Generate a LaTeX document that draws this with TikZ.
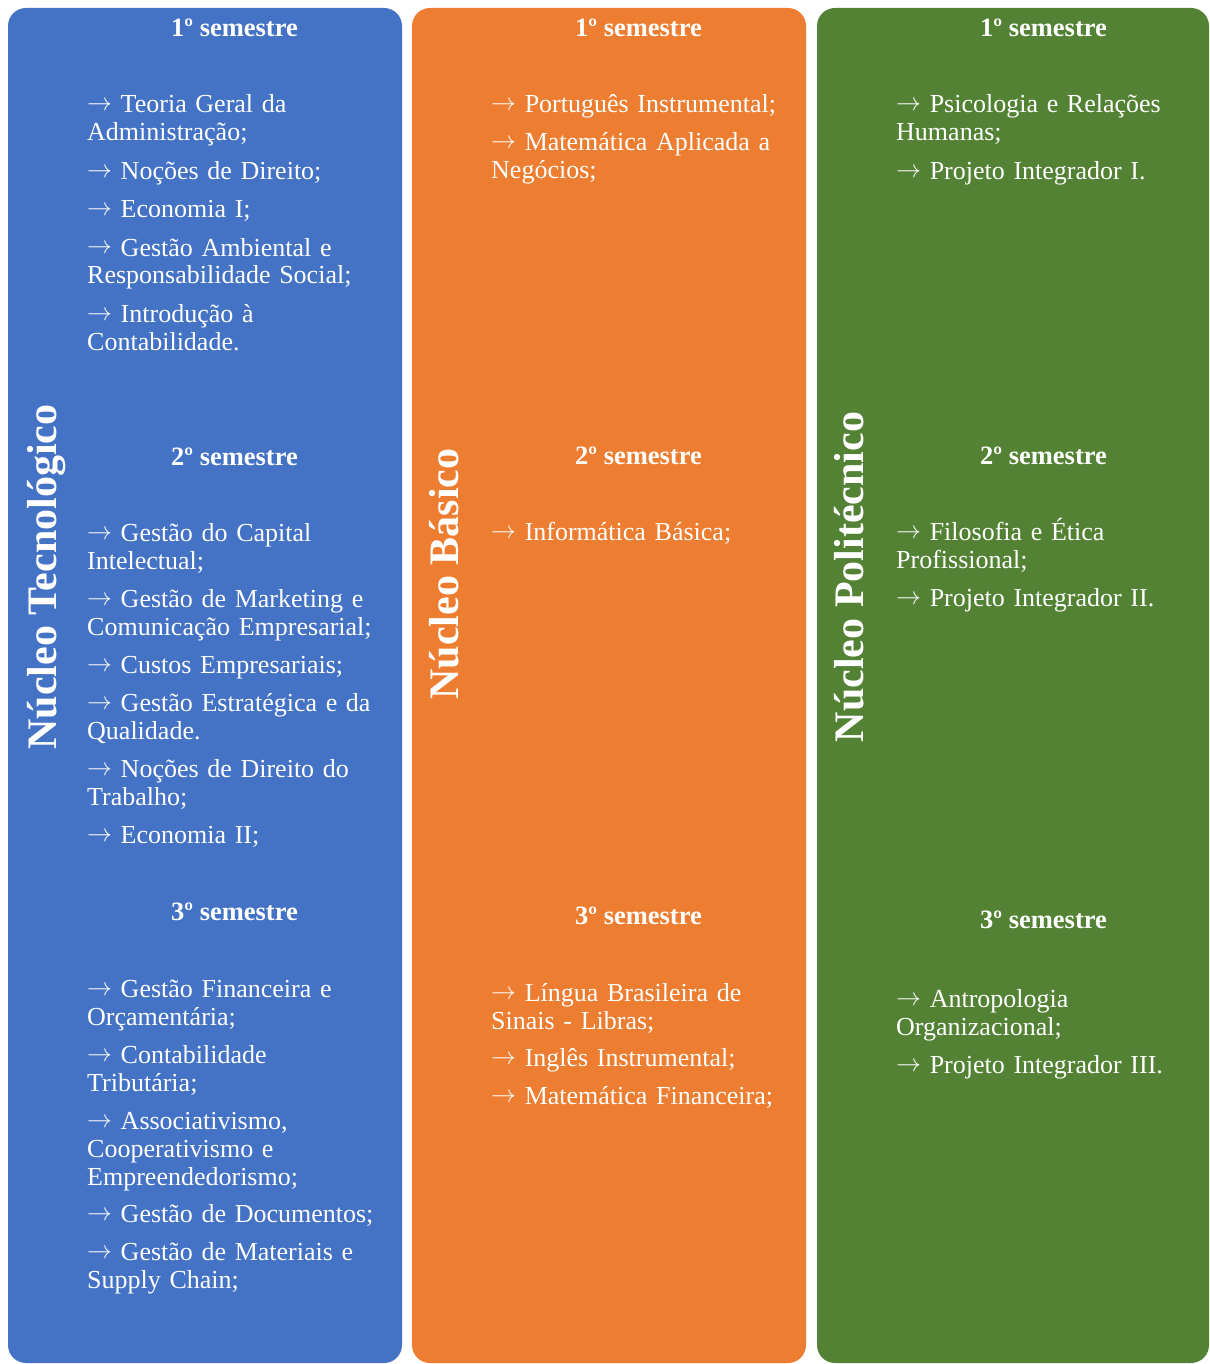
\documentclass[tikz,border=0pt]{standalone}
\usepackage{fontspec}
\setmainfont{Liberation Serif}
\definecolor{cblue}{HTML}{4472C4}
\definecolor{corange}{HTML}{ED7D31}
\definecolor{cgreen}{HTML}{548235}
\newcommand\myarr{\raisebox{2pt}{\fontsize{24}{24}\selectfont$\rightarrow$}\ }
\begin{document}
\begin{tikzpicture}[x=1pt,y=-1pt,
  panelbox/.style={rounded corners=18pt},
  semhead/.style={anchor=base, inner sep=0pt, text=white, font=\fontsize{26.5}{28}\selectfont\bfseries},
  subj/.style={anchor=base west, inner sep=0pt, text=white, text width=340pt, align=left, font=\fontsize{26}{28}\selectfont},
  coltitle/.style={anchor=base, inner sep=0pt, rotate=90, text=white, font=\fontsize{42}{48}\selectfont\bfseries}]
\useasboundingbox (0,0) rectangle (1209,1364);
\fill[white] (0,0) rectangle (1209,1364);
% panels
\fill[cblue, panelbox] (8,8) rectangle (402,1363);
\fill[corange, panelbox] (412,8) rectangle (806,1363);
\fill[cgreen, panelbox] (817,8) rectangle (1209,1363);
% titles
\node[coltitle] (t1) at (56,577) {Núcleo Tecnológico};
\node[coltitle] (t2) at (458,574) {Núcleo Básico};
\node[coltitle] (t3) at (863,577) {Núcleo Politécnico};
% column 1
\node[semhead] (h11) at (234.5,37) {1º semestre};
\node[subj] (a1) at (87,113) {\myarr Teoria Geral da\\Administração;};
\node[subj] (a2) at (87,180) {\myarr Noções de Direito;};
\node[subj] (a3) at (87,218) {\myarr Economia I;};
\node[subj] (a4) at (87,256) {\myarr Gestão Ambiental e\\Responsabilidade Social;};
\node[subj] (a5) at (87,322) {\myarr Introdução à\\Contabilidade.};
\node[semhead] (h12) at (234.5,465) {2º semestre};
\node[subj] (b1) at (87,541) {\myarr Gestão do Capital\\Intelectual;};
\node[subj] (b2) at (87,607) {\myarr Gestão de Marketing e\\Comunicação Empresarial;};
\node[subj] (b3) at (87,673) {\myarr Custos Empresariais;};
\node[subj] (b4) at (87,711) {\myarr Gestão Estratégica e da\\Qualidade.};
\node[subj] (b5) at (87,777) {\myarr Noções de Direito do\\Trabalho;};
\node[subj] (b6) at (87,843) {\myarr Economia II;};
\node[semhead] (h13) at (234.5,920) {3º semestre};
\node[subj] (c1) at (87,997) {\myarr Gestão Financeira e\\Orçamentária;};
\node[subj] (c2) at (87,1063) {\myarr Contabilidade\\Tributária;};
\node[subj] (c3) at (87,1129) {\myarr Associativismo,\\Cooperativismo e\\Empreendedorismo;};
\node[subj] (c4) at (87,1222) {\myarr Gestão de Documentos;};
\node[subj] (c5) at (87,1260) {\myarr Gestão de Materiais e\\Supply Chain;};
% column 2
\node[semhead] (h21) at (638.5,37) {1º semestre};
\node[subj] (d1) at (491,113) {\myarr Português Instrumental;};
\node[subj] (d2) at (491,151) {\myarr Matemática Aplicada a\\Negócios;};
\node[semhead] (h22) at (638.5,464) {2º semestre};
\node[subj] (e1) at (491,540) {\myarr Informática Básica;};
\node[semhead] (h23) at (638.5,924) {3º semestre};
\node[subj] (f1) at (491,1001) {\myarr Língua Brasileira de\\Sinais - Libras;};
\node[subj] (f2) at (491,1066) {\myarr Inglês Instrumental;};
\node[subj] (f3) at (491,1104) {\myarr Matemática Financeira;};
% column 3
\node[semhead] (h31) at (1043.5,37) {1º semestre};
\node[subj] (g1) at (896,113) {\myarr Psicologia e Relações\\Humanas;};
\node[subj] (g2) at (896,180) {\myarr Projeto Integrador I.};
\node[semhead] (h32) at (1043.5,464) {2º semestre};
\node[subj] (k1) at (896,540) {\myarr Filosofia e Ética\\Profissional;};
\node[subj] (k2) at (896,606) {\myarr Projeto Integrador II.};
\node[semhead] (h33) at (1043.5,928) {3º semestre};
\node[subj] (m1) at (896,1007) {\myarr Antropologia\\Organizacional;};
\node[subj] (m2) at (896,1073) {\myarr Projeto Integrador III.};
\end{tikzpicture}
\end{document}
